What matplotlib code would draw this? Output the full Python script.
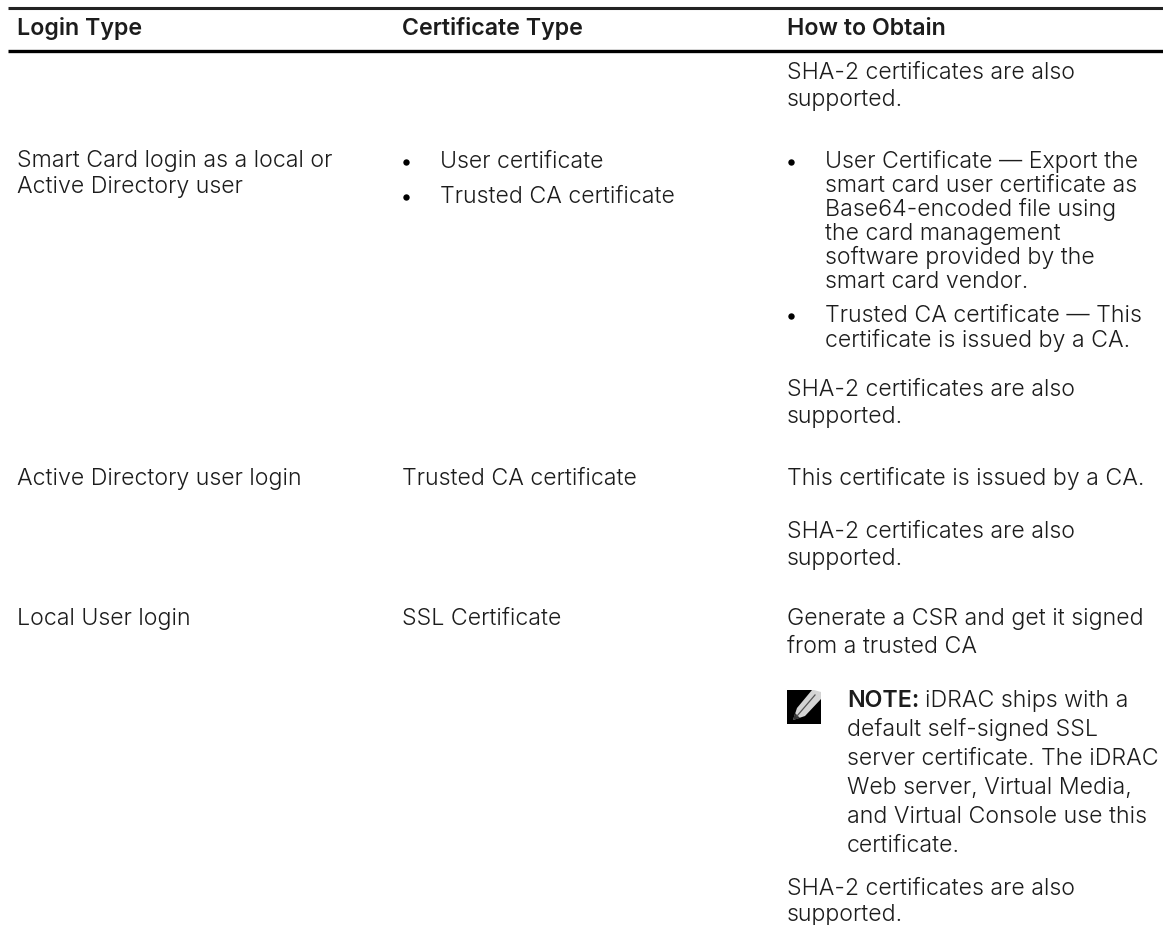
import matplotlib
matplotlib.use('Agg')
import matplotlib.pyplot as plt
from matplotlib.patches import Polygon, Rectangle

plt.rcParams['font.family'] = ['Inter', 'DejaVu Sans']

W, H = 1163, 925
INK = '#1c1c1c'
FS = 16.7

headers = ['Login Type', 'Certificate Type', 'How to Obtain']

sha2 = ['SHA-2 certificates are also', 'supported.']
smart_login = ['Smart Card login as a local or', 'Active Directory user']
smart_certs = ['User certificate', 'Trusted CA certificate']
smart_user = ['User Certificate — Export the', 'smart card user certificate as',
              'Base64-encoded file using', 'the card management',
              'software provided by the', 'smart card vendor.']
smart_ca = ['Trusted CA certificate — This', 'certificate is issued by a CA.']
ad_row = ['Active Directory user login', 'Trusted CA certificate',
          'This certificate is issued by a CA.']
local_row = ['Local User login', 'SSL Certificate']
local_how = ['Generate a CSR and get it signed', 'from a trusted CA']
note_first = 'iDRAC ships with a'
note_rest = ['default self-signed SSL', 'server certificate. The iDRAC',
             'Web server, Virtual Media,', 'and Virtual Console use this',
             'certificate.']

fig = plt.figure(figsize=(W / 100, H / 100), dpi=100, facecolor='white')
ax = fig.add_axes([0, 0, 1, 1])
ax.set_xlim(0, W)
ax.set_ylim(H, 0)
ax.axis('off')


def put(x, y, s, **kw):
    return ax.text(x, y, s, fontsize=FS, color=INK, va='baseline', fontweight=kw.pop('fontweight', 300), **kw)


def lines(x, y, rows, step=27):
    for i, s in enumerate(rows):
        put(x, y + i * step, s)


def bullet(x, y):
    ax.plot([x], [y], 'o', color='black', ms=4.6, mew=0)


# rules
ax.plot([8, W], [8, 8], color='#222222', lw=2.2, solid_capstyle='butt')
ax.plot([8, W], [51, 51], color='black', lw=2.4, solid_capstyle='butt')

for x, s in zip([17, 402, 787], headers):
    put(x, 35, s, fontweight=600)

lines(787, 79, sha2)

lines(17, 167, smart_login, step=26)
bullet(406, 162)
bullet(406, 197)
put(440, 168, smart_certs[0])
put(440, 203, smart_certs[1])

bullet(791, 162)
lines(825, 168, smart_user, step=24)
bullet(791, 316)
lines(825, 322, smart_ca, step=24.5)
lines(787, 396, sha2)

put(17, 485, ad_row[0])
put(402, 485, ad_row[1])
put(787, 485, ad_row[2])
lines(787, 538, sha2, step=26.5)

put(17, 625, local_row[0])
put(402, 625, local_row[1])
lines(787, 625, local_how, step=28)

# note icon
ax.add_patch(Rectangle((787, 690), 34, 34, color='black', lw=0))
ax.add_patch(Polygon([[793, 720], [797, 708], [812, 690], [821, 690], [821, 699], [805, 716]],
                     closed=True, facecolor='#d4d4d4', edgecolor='none'))
ax.add_patch(Polygon([[814, 690], [821, 690], [821, 692]], closed=True, facecolor='white', edgecolor='none'))
ax.plot([797, 815], [716, 695], color='#555555', lw=0.9)
ax.add_patch(Polygon([[793, 720], [795, 713], [800, 718]], closed=True, facecolor='#333333', edgecolor='none'))

t = put(847, 707, 'NOTE:', fontweight=600)
fig.canvas.draw()
box = t.get_window_extent()
put(box.x1 + 6, 707, note_first)
lines(847, 736, note_rest, step=29)
lines(787, 895, sha2, step=26)

fig.savefig('out.png', dpi=100)
